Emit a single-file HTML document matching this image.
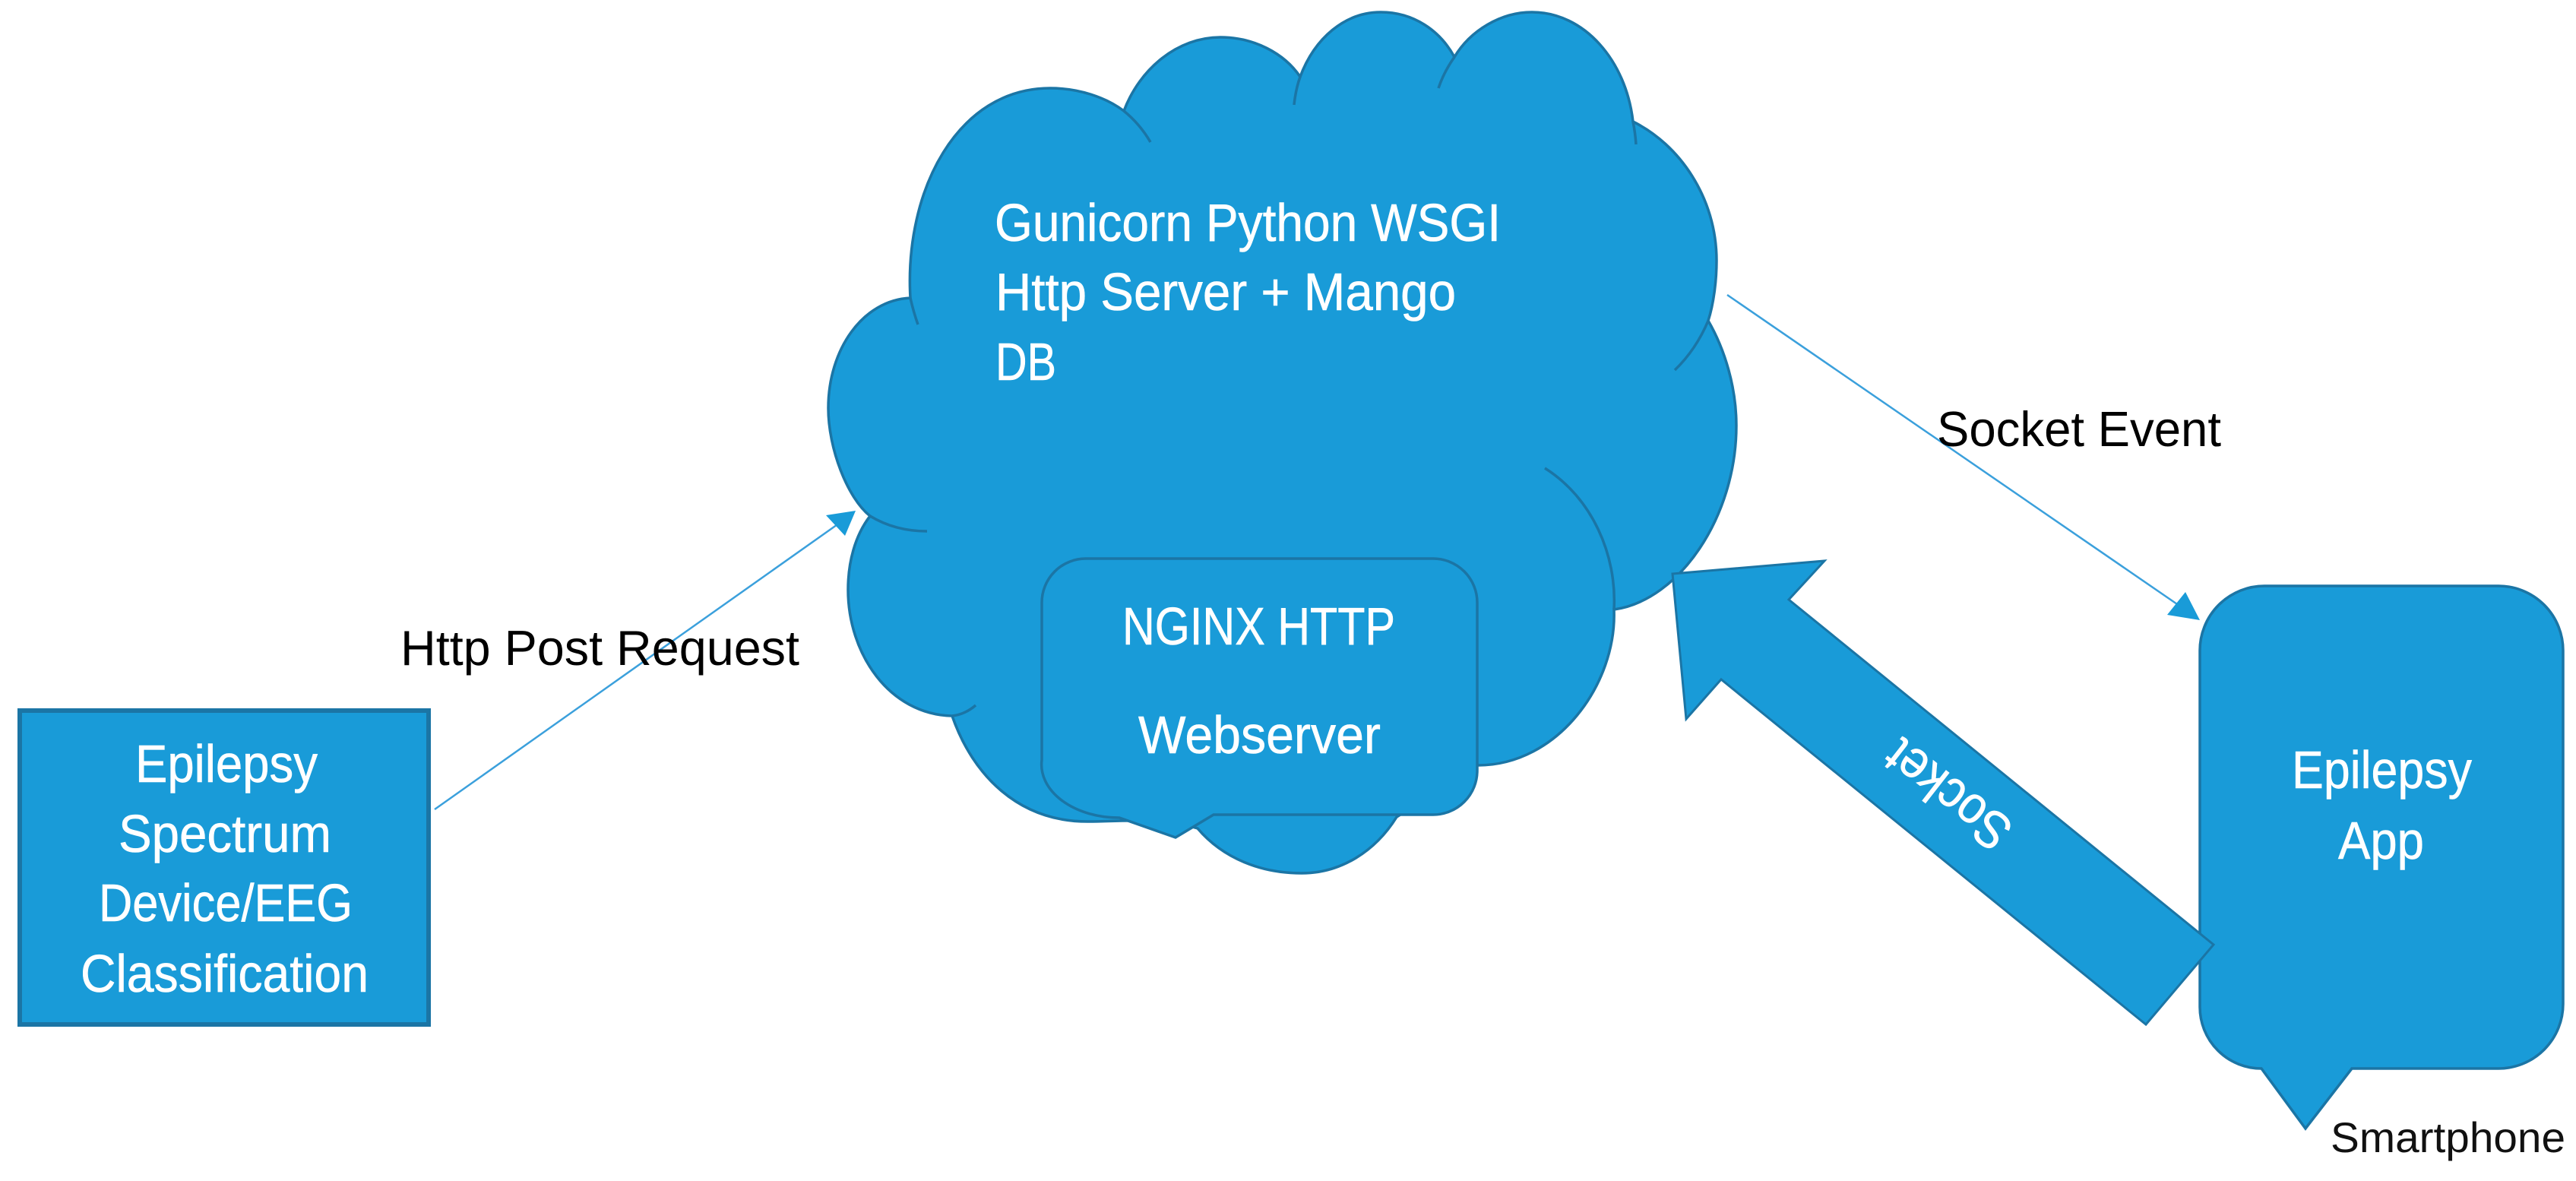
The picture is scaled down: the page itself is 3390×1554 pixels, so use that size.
<!DOCTYPE html>
<html><head><meta charset="utf-8"><style>
html,body{margin:0;padding:0;background:#fff}
svg{display:block}
text{font-family:"Liberation Sans",sans-serif}
</style></head><body>
<svg width="3390" height="1554" viewBox="0 0 3390 1554" xmlns="http://www.w3.org/2000/svg">
<rect width="3390" height="1554" fill="#fff"/>
<!-- Cloud -->
<path d="M1145 679C1115 655 1090 590 1090 537C1090 460 1135 395 1198 392C1190 250 1260 116 1382 116C1420 116 1455 128 1479 146C1500 90 1550 49 1606 49C1650 49 1690 70 1711 101C1730 50 1770 16 1817 16C1860 16 1895 40 1914 75C1935 40 1975 16 2016 16C2085 16 2140 80 2149 160C2210 190 2259 260 2259 343C2259 370 2255 400 2248 422C2270 460 2285 510 2285 560C2285 680 2210 790 2124 802C2128 900 2050 1007 1945 1007L1838 1075C1810 1120 1765 1149 1713 1149C1660 1149 1610 1130 1576 1090C1530 1075 1470 1081 1431 1081C1340 1081 1280 1020 1253 942C1170 940 1116 860 1116 776C1116 740 1125 705 1145 679Z" fill="#199bd8" stroke="#1b75a5" stroke-width="3.5"/>
<g fill="none" stroke="#1b75a5" stroke-width="3.5">
<path d="M1479 146Q1500 163 1514 187"/>
<path d="M1711 101Q1705 118 1703 138"/>
<path d="M1914 75Q1900 95 1893 116"/>
<path d="M2149 160Q2152 175 2153 190"/>
<path d="M2248 422Q2232 460 2204 487"/>
<path d="M2033 616C2095 655 2128 730 2124 802"/>
<path d="M1253 942Q1270 940 1284 928"/>
<path d="M1145 679Q1178 699 1220 699"/>
<path d="M1198 392Q1202 410 1208 427"/>
</g>
<!-- NGINX callout -->
<path d="M1429 735H1886A58 58 0 0 1 1944 793V1014A58 58 0 0 1 1886 1072H1597L1547 1102L1473 1076A102 70 0 0 1 1371 1000V793A58 58 0 0 1 1429 735Z" fill="#199bd8" stroke="#1b75a5" stroke-width="3.5"/>
<!-- Left rectangle -->
<rect x="26" y="935" width="538" height="413" fill="#199bd8" stroke="#1b75a5" stroke-width="6"/>
<!-- Connectors -->
<line x1="572" y1="1065" x2="1105" y2="688" stroke="#3ba0dc" stroke-width="2.5"/>
<polygon points="1126,672 1087,678 1112,705" fill="#199bd8"/>
<line x1="2273" y1="388" x2="2868" y2="797" stroke="#3ba0dc" stroke-width="2.5"/>
<polygon points="2895,816 2852,809 2876,779" fill="#199bd8"/>
<!-- Smartphone callout -->
<path d="M2980 771H3288A85 85 0 0 1 3373 856V1321A85 85 0 0 1 3288 1406H3095L3034 1485L2976 1406A81 81 0 0 1 2895 1325V856A85 85 0 0 1 2980 771Z" fill="#199bd8" stroke="#1b75a5" stroke-width="3.5"/>
<!-- Block arrow -->
<polygon points="2201,755 2401,738 2354,789 2913,1243 2824,1348 2265,894 2219,946" fill="#199bd8" stroke="#1b75a5" stroke-width="3"/>
<!-- Text -->
<g fill="#fff" font-size="70" stroke="#fff" stroke-width="0.6">
<text x="1309" y="317" textLength="666" lengthAdjust="spacingAndGlyphs">Gunicorn Python WSGI</text>
<text x="1310" y="408" textLength="606" lengthAdjust="spacingAndGlyphs">Http Server + Mango</text>
<text x="1310" y="500" textLength="80" lengthAdjust="spacingAndGlyphs">DB</text>
<text x="1477" y="848" textLength="359" lengthAdjust="spacingAndGlyphs">NGINX HTTP</text>
<text x="1498" y="991" textLength="319" lengthAdjust="spacingAndGlyphs">Webserver</text>
<text x="178" y="1029" textLength="240" lengthAdjust="spacingAndGlyphs">Epilepsy</text>
<text x="156" y="1121" textLength="280" lengthAdjust="spacingAndGlyphs">Spectrum</text>
<text x="130" y="1212" textLength="334" lengthAdjust="spacingAndGlyphs">Device/EEG</text>
<text x="106" y="1305" textLength="379" lengthAdjust="spacingAndGlyphs">Classification</text>
<text x="3016" y="1037" textLength="237" lengthAdjust="spacingAndGlyphs">Epilepsy</text>
<text x="3077" y="1130" textLength="113" lengthAdjust="spacingAndGlyphs">App</text>
<text transform="translate(2578 1027) rotate(218)" x="-95" y="0" textLength="190" lengthAdjust="spacingAndGlyphs">Socket</text>
</g>
<g fill="#000">
<text x="527" y="875" font-size="65" textLength="525" lengthAdjust="spacingAndGlyphs">Http Post Request</text>
<text x="2549" y="587" font-size="65" textLength="374" lengthAdjust="spacingAndGlyphs">Socket Event</text>
<text x="3067" y="1516" font-size="56" fill="#111" textLength="309" lengthAdjust="spacingAndGlyphs">Smartphone</text>
</g>
</svg>
</body></html>
